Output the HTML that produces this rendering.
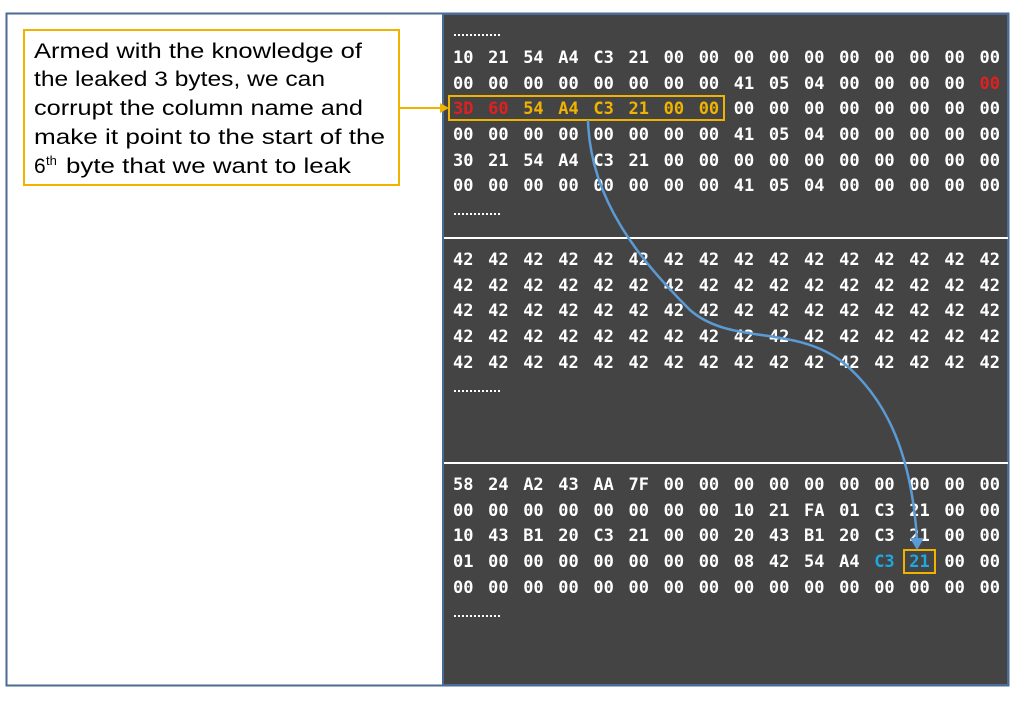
<!DOCTYPE html>
<html><head><style>
body{margin:0;background:#fff;width:1028px;height:698px;overflow:hidden}
svg text{font-family:"DejaVu Sans Mono","Liberation Mono",monospace;font-size:17px;fill:#fff}
svg text.t{font-family:"Liberation Sans",sans-serif;font-size:21px;fill:#000}
</style></head><body>
<svg width="1028" height="698" xmlns="http://www.w3.org/2000/svg">
<rect x="6.5" y="13.5" width="1002" height="672" fill="#fff" stroke="#4a6b93" stroke-width="2"/>
<rect x="443" y="14" width="565" height="671" fill="#444" stroke="#4a6b93" stroke-width="2"/>
<line x1="444" y1="238" x2="1008" y2="238" stroke="#fff" stroke-width="2"/>
<line x1="444" y1="463" x2="1008" y2="463" stroke="#fff" stroke-width="2"/>
<rect x="24" y="30" width="375" height="155" fill="#fff" stroke="#f0b400" stroke-width="2"/>
<text class="t" x="34" y="58" textLength="328" lengthAdjust="spacingAndGlyphs">Armed with the knowledge of</text>
<text class="t" x="34" y="86" textLength="291" lengthAdjust="spacingAndGlyphs">the leaked 3 bytes, we can</text>
<text class="t" x="34" y="115" textLength="329" lengthAdjust="spacingAndGlyphs">corrupt the column name and</text>
<text class="t" x="34" y="144" textLength="351" lengthAdjust="spacingAndGlyphs">make it point to the start of the</text>
<text class="t" x="34" y="173">6</text>
<text class="t" x="46" y="165" style="font-size:13px">th</text>
<text class="t" x="66" y="173" textLength="285" lengthAdjust="spacingAndGlyphs">byte that we want to leak</text>
<line x1="399" y1="108" x2="442" y2="108" stroke="#f0b400" stroke-width="2"/>
<polygon points="449,108 440,103 440,113" fill="#f0b400"/>
<g id="hex"></g>
<rect x="449" y="96" width="275" height="24" fill="none" stroke="#f0b400" stroke-width="2"/>
<rect x="904" y="550" width="31" height="23" fill="none" stroke="#f0b400" stroke-width="2"/>
<path d="M588,120 C590,200 640,260 690,310 C730,345 790,325 840,360 C890,400 912,460 917,540" fill="none" stroke="#5b9bd5" stroke-width="2.5"/>
<polygon points="917,550 910,538 924,538" fill="#5b9bd5"/>
</svg>
<script>
var rows=[
[33,"dots"],
[57,"10 21 54 A4 C3 21 00 00 00 00 00 00 00 00 00 00"],
[83,"00 00 00 00 00 00 00 00 41 05 04 00 00 00 00 00",{15:"#e02020"}],
[108,"3D 60 54 A4 C3 21 00 00 00 00 00 00 00 00 00 00",{0:"#e02020",1:"#e02020",2:"#f0b400",3:"#f0b400",4:"#f0b400",5:"#f0b400",6:"#f0b400",7:"#f0b400"}],
[134,"00 00 00 00 00 00 00 00 41 05 04 00 00 00 00 00"],
[160,"30 21 54 A4 C3 21 00 00 00 00 00 00 00 00 00 00"],
[185,"00 00 00 00 00 00 00 00 41 05 04 00 00 00 00 00"],
[212,"dots"],
[259,"42 42 42 42 42 42 42 42 42 42 42 42 42 42 42 42"],
[285,"42 42 42 42 42 42 42 42 42 42 42 42 42 42 42 42"],
[310,"42 42 42 42 42 42 42 42 42 42 42 42 42 42 42 42"],
[336,"42 42 42 42 42 42 42 42 42 42 42 42 42 42 42 42"],
[362,"42 42 42 42 42 42 42 42 42 42 42 42 42 42 42 42"],
[389,"dots"],
[484,"58 24 A2 43 AA 7F 00 00 00 00 00 00 00 00 00 00"],
[510,"00 00 00 00 00 00 00 00 10 21 FA 01 C3 21 00 00"],
[535,"10 43 B1 20 C3 21 00 00 20 43 B1 20 C3 21 00 00"],
[561,"01 00 00 00 00 00 00 00 08 42 54 A4 C3 21 00 00",{12:"#1ea7e0",13:"#1ea7e0"}],
[587,"00 00 00 00 00 00 00 00 00 00 00 00 00 00 00 00"],
[614,"dots"]];
var s="";
rows.forEach(function(r){
 var y=r[0]+6;
 if(r[1]=="dots"){for(var k=0;k<12;k++)s+='<rect x="'+(454+k*4)+'" y="'+(r[0]+1)+'" width="2" height="2" fill="#fff"/>';return;}
 r[1].split(" ").forEach(function(c,i){
  var col=(r[2]&&r[2][i])||"#fff";
  s+='<text x="'+(453+i*35.1).toFixed(1)+'" y="'+y+'" style="fill:'+col+';font-weight:bold">'+c+'</text>';
 });
});
document.getElementById("hex").innerHTML=s;
</script>
</body></html>
